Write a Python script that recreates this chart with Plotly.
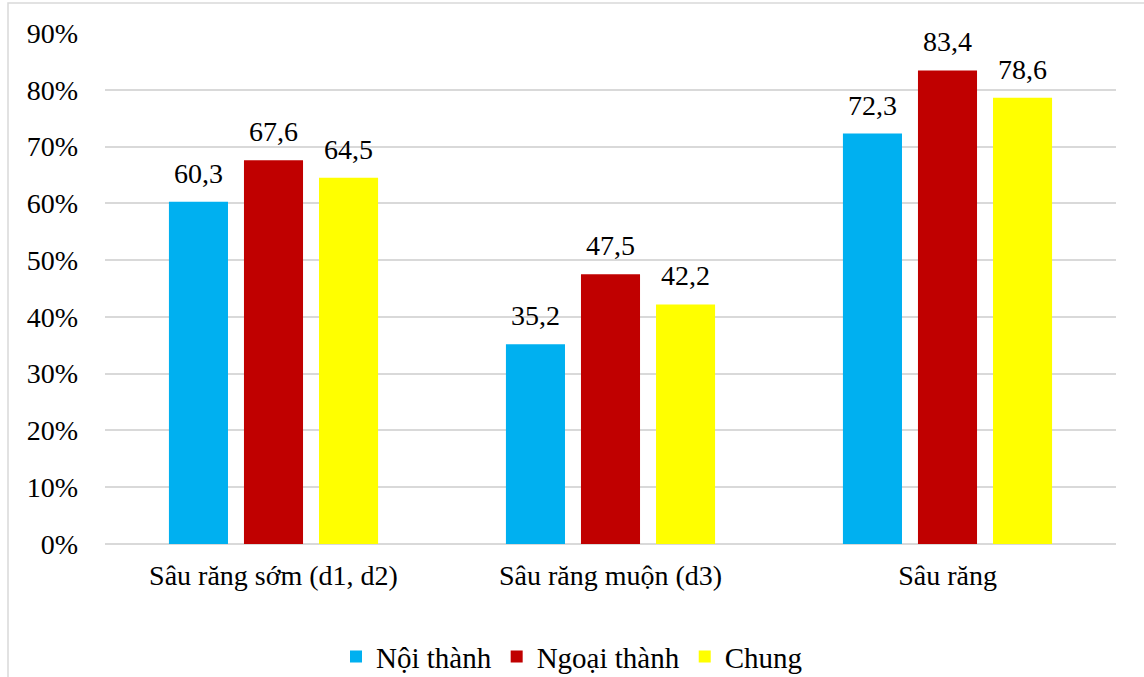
import plotly.graph_objects as go

categories = ["Sâu răng sớm (d1, d2)", "Sâu răng muộn (d3)", "Sâu răng"]
series_names = ["Nội thành", "Ngoại thành", "Chung"]
noi_thanh = [60.3, 35.2, 72.3]
ngoai_thanh = [67.6, 47.5, 83.4]
chung = [64.5, 42.2, 78.6]
y_ticks = [0, 10, 20, 30, 40, 50, 60, 70, 80, 90]
y_tick_labels = [f"{v}%" for v in y_ticks]

colors = ["#00B0F0", "#C00000", "#FFFF00"]
FONT = "'Times New Roman', 'Liberation Serif', 'DejaVu Serif', serif"

W, H = 1144, 677
ML, MR, MT, MB = 105, 28, 33, 133
BARGAP, BARGROUPGAP = 0.332, 0.213
plot_w = W - ML - MR
slot_px = (1 - BARGAP) * plot_w / len(categories) / len(series_names)

fig = go.Figure()
all_series = [noi_thanh, ngoai_thanh, chung]
for si, (name, vals, col) in enumerate(zip(series_names, all_series, colors)):
    fig.add_trace(go.Bar(
        name=name, x=categories, y=vals,
        marker=dict(color=col, line=dict(width=0)),
    ))
    for c, v in zip(categories, vals):
        fig.add_annotation(
            x=c, y=v, xref="x", yref="y",
            text=f"{v:.1f}".replace(".", ","),
            showarrow=False, yanchor="bottom", xanchor="center",
            xshift=(si - (len(series_names) - 1) / 2) * slot_px, yshift=11,
            font=dict(family=FONT, size=28, color="#000000"),
        )

fig.update_layout(
    width=W, height=H,
    margin=dict(l=ML, r=MR, t=MT, b=MB),
    paper_bgcolor="white", plot_bgcolor="white",
    barmode="group", bargap=BARGAP, bargroupgap=BARGROUPGAP,
    font=dict(family=FONT, size=28, color="#000000"),
    showlegend=True,
    legend=dict(orientation="h", xref="container", yref="container",
                x=0.5, xanchor="center", y=0.03, yanchor="middle",
                font=dict(family=FONT, size=29, color="#000000"),
                itemclick=False),
)
fig.update_xaxes(showgrid=False, showline=False, ticks="", zeroline=False,
                 tickfont=dict(family=FONT, size=28, color="#000000"),
                 ticklabelstandoff=12, fixedrange=True)
fig.update_yaxes(range=[0, 90], tickvals=y_ticks, ticktext=y_tick_labels,
                 showgrid=True, gridcolor="#D9D9D9", gridwidth=1.5,
                 zeroline=True, zerolinecolor="#D9D9D9", zerolinewidth=1.5,
                 showline=False, ticks="",
                 tickfont=dict(family=FONT, size=28, color="#000000"),
                 ticklabelstandoff=26, fixedrange=True)

# outer chart border (partially cropped in the reference)
fig.add_shape(type="rect", xref="paper", yref="paper",
              x0=(8 - ML) / plot_w, x1=(1160 - ML) / plot_w,
              y0=(H - MB - 700) / (H - MT - MB), y1=(H - MB - 3) / (H - MT - MB),
              line=dict(color="#D9D9D9", width=1.5), fillcolor="rgba(0,0,0,0)",
              layer="below")

fig.write_html("out.html")
